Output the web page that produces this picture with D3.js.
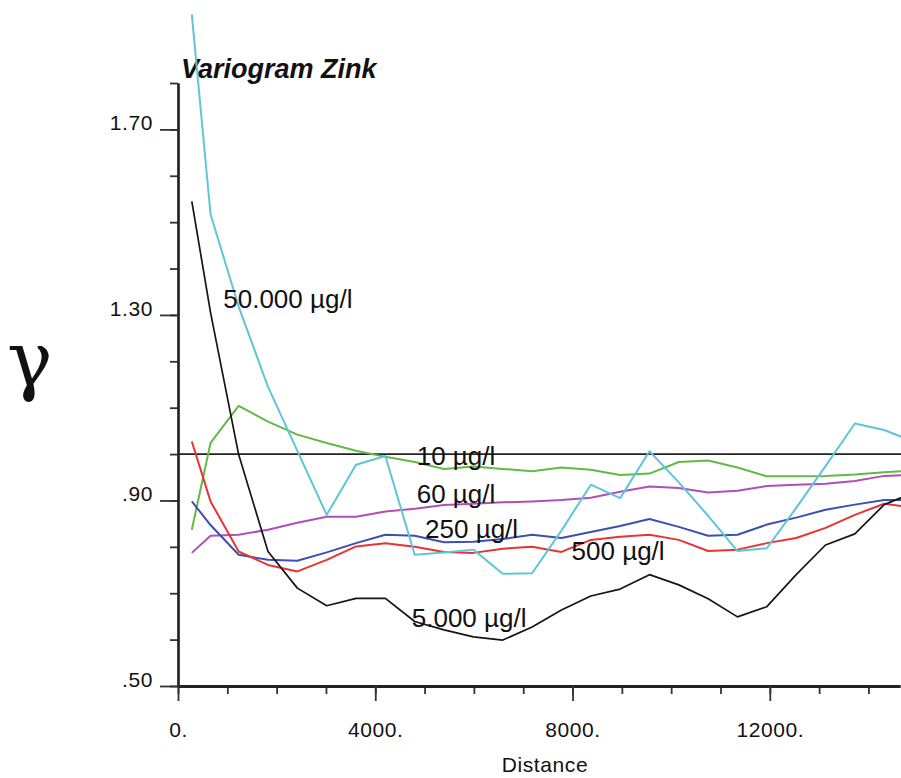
<!DOCTYPE html>
<html>
<head>
<meta charset="utf-8">
<script src="https://cdn.jsdelivr.net/npm/d3@7"></script>
<style>
  html, body { margin: 0; padding: 0; background: #fff; }
  svg { display: block; }
  text { font-family: "Liberation Sans", Arial, Helvetica, sans-serif; fill: #111; }
</style>
</head>
<body>
<svg id="chart" width="901" height="778"></svg>
<script>
// Lag distances (centre of each distance class)
const distances = [280, 660, 1230, 1825, 2420, 3015, 3610, 4205, 4800, 5395, 5990, 6585, 7180,
                   7775, 8370, 8965, 9560, 10155, 10750, 11345, 11940, 12535, 13130, 13725, 14320, 14915];

// Standardised indicator semivariance per threshold
const gamma10 = [0.837, 1.024, 1.104, 1.070, 1.042, 1.024, 1.007, 0.994, 0.983, 0.968, 0.973, 0.968, 0.963,
                 0.971, 0.966, 0.955, 0.958, 0.983, 0.986, 0.971, 0.952, 0.952, 0.953, 0.956, 0.961, 0.964];
const gamma60 = [0.787, 0.824, 0.826, 0.837, 0.852, 0.865, 0.865, 0.876, 0.882, 0.890, 0.893, 0.896, 0.898,
                 0.901, 0.906, 0.919, 0.930, 0.927, 0.917, 0.921, 0.931, 0.934, 0.936, 0.942, 0.953, 0.955];
const gamma250 = [0.898, 0.847, 0.783, 0.772, 0.770, 0.788, 0.808, 0.826, 0.824, 0.810, 0.811, 0.817, 0.826,
                  0.819, 0.832, 0.845, 0.860, 0.843, 0.824, 0.826, 0.848, 0.863, 0.880, 0.891, 0.901, 0.901];
const gamma500 = [1.027, 0.898, 0.790, 0.761, 0.747, 0.772, 0.801, 0.808, 0.800, 0.789, 0.787, 0.796, 0.800,
                  0.789, 0.815, 0.822, 0.826, 0.815, 0.791, 0.794, 0.808, 0.819, 0.841, 0.869, 0.893, 0.884];
const gamma5000 = [1.545, 1.305, 0.999, 0.790, 0.711, 0.673, 0.689, 0.689, 0.639, 0.621, 0.606, 0.599, 0.627,
                   0.664, 0.694, 0.709, 0.740, 0.718, 0.688, 0.649, 0.671, 0.740, 0.804, 0.828, 0.891, 0.917];
const gamma50000 = [1.948, 1.517, 1.318, 1.145, 1.007, 0.869, 0.977, 0.996, 0.783, 0.788, 0.794, 0.742, 0.743,
                    0.835, 0.934, 0.905, 1.006, 0.939, 0.867, 0.791, 0.797, 0.884, 0.974, 1.066, 1.052, 1.027];

const seriesNames = ["10 µg/l", "60 µg/l", "250 µg/l", "500 µg/l", "5.000 µg/l", "50.000 µg/l"];
const sill = 1.0;

const yMajorTicks = [0.5, 0.9, 1.3, 1.7];
const xMajorTicks = [0, 4000, 8000, 12000];

const svg = d3.select("#chart");

const x = d3.scaleLinear().domain([0, 14640]).range([178, 900]);
const y = d3.scaleLinear().domain([0.5, 1.8]).range([686, 83]);

// Title
svg.append("text")
  .attr("x", 181).attr("y", 78)
  .style("font-size", "27px").style("font-weight", "bold").style("font-style", "italic")
  .text("Variogram Zink");

// Axis label gamma
svg.append("text")
  .attr("x", 7).attr("y", 386)
  .style("font-family", "'DejaVu Serif', 'Liberation Serif', serif")
  .style("font-size", "76px")
  .text("γ");

// X axis label
svg.append("text")
  .attr("x", 545).attr("y", 772)
  .attr("text-anchor", "middle")
  .style("font-size", "21px").style("letter-spacing", "0.6px")
  .text("Distance");

// Y axis: minor ticks every 0.1, labelled major ticks every 0.4
const yMinor = svg.append("g").attr("transform", "translate(178,0)")
  .call(d3.axisLeft(y).tickValues(d3.range(5, 19).map(v => v / 10)).tickSize(8).tickSizeOuter(0).tickFormat(""));
const yMajor = svg.append("g").attr("transform", "translate(178,0)")
  .call(d3.axisLeft(y).tickValues(yMajorTicks).tickSize(18).tickPadding(7).tickSizeOuter(0)
    .tickFormat(d => d3.format(".2f")(d).replace(/^0/, "")));

// X axis: minor ticks every 1000, labelled major ticks every 4000
const xMinor = svg.append("g").attr("transform", "translate(0,686)")
  .call(d3.axisBottom(x).tickValues(d3.range(0, 15000, 1000)).tickSize(8).tickSizeOuter(0).tickFormat(""));
const xMajor = svg.append("g").attr("transform", "translate(0,686)")
  .call(d3.axisBottom(x).tickValues(xMajorTicks).tickSize(15).tickPadding(21).tickSizeOuter(0)
    .tickFormat(d => d + "."));

[yMinor, yMajor, xMinor, xMajor].forEach(g => {
  g.selectAll("path.domain").attr("stroke", "#222").attr("stroke-width", 2.2);
  g.selectAll(".tick line").attr("stroke", "#333").attr("stroke-width", 1.8);
  g.selectAll(".tick text")
    .attr("fill", "#111")
    .style("font-family", "'Liberation Sans', Arial, sans-serif")
    .style("font-size", "21px").style("letter-spacing", "0.6px");
});
yMajor.selectAll(".tick text").attr("dy", "0.02em");
xMajor.selectAll(".tick text").attr("dy", "0.71em");
xMinor.select("path.domain").attr("stroke-width", 2.8);

// Sill reference line
svg.append("line")
  .attr("x1", x(0)).attr("x2", 901)
  .attr("y1", y(sill)).attr("y2", y(sill))
  .attr("stroke", "#222").attr("stroke-width", 1.6);

// Experimental variograms
const series = [
  { values: gamma10, color: "#63b944", width: 2 },
  { values: gamma60, color: "#b24fb4", width: 2 },
  { values: gamma250, color: "#3c4fb2", width: 2 },
  { values: gamma500, color: "#ea3434", width: 2 },
  { values: gamma5000, color: "#151515", width: 1.7 },
  { values: gamma50000, color: "#5ec6d8", width: 2 }
];

const line = d3.line().x(d => x(d[0])).y(d => y(d[1]));

svg.append("g").selectAll("path")
  .data(series)
  .join("path")
  .attr("d", s => line(distances.map((dist, i) => [dist, s.values[i]])))
  .attr("fill", "none")
  .attr("stroke", s => s.color)
  .attr("stroke-width", s => s.width)
  .attr("stroke-linejoin", "round");

// Series labels, anchored in data coordinates
const labelAnchors = [
  { name: seriesNames[0], d: 4840, g: 0.977 },
  { name: seriesNames[1], d: 4840, g: 0.895 },
  { name: seriesNames[2], d: 5010, g: 0.819 },
  { name: seriesNames[3], d: 7980, g: 0.772 },
  { name: seriesNames[4], d: 4740, g: 0.627 },
  { name: seriesNames[5], d: 918, g: 1.316 }
];

svg.append("g").selectAll("text")
  .data(labelAnchors)
  .join("text")
  .attr("x", a => x(a.d))
  .attr("y", a => y(a.g))
  .style("font-size", "26px")
  .text(a => a.name);
</script>
</body>
</html>
